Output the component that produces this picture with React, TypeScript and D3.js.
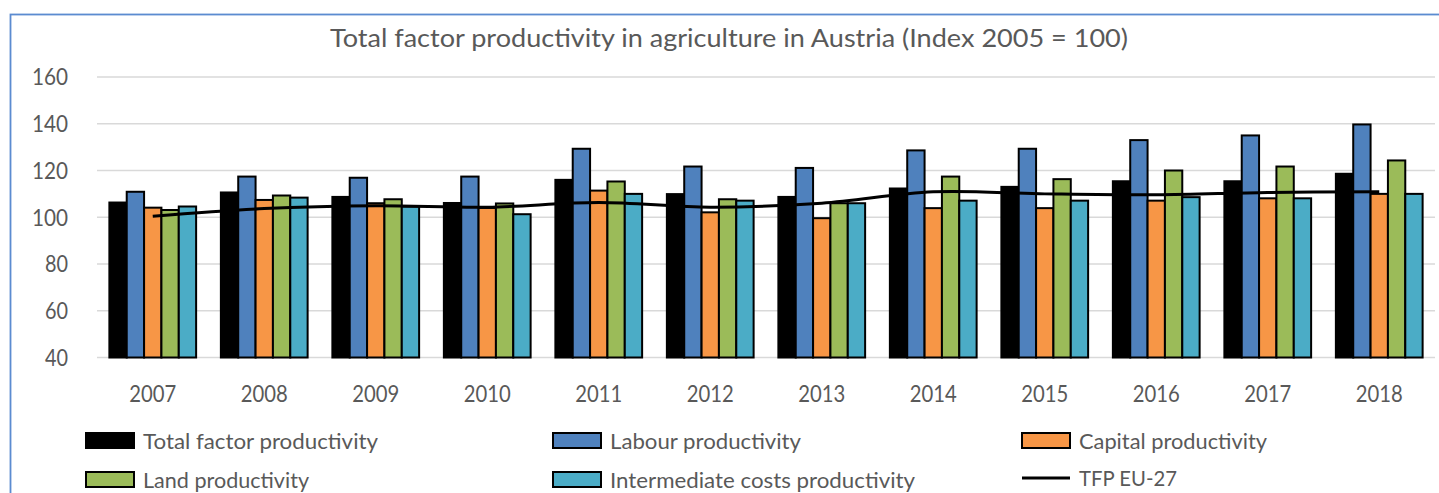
import React from "react";
import * as d3 from "d3";

const years = ["2007","2008","2009","2010","2011","2012","2013","2014","2015","2016","2017","2018"];
const tfp = [106.3, 110.6, 108.7, 106.1, 116.0, 109.9, 108.7, 112.3, 113.0, 115.4, 115.4, 118.6];
const labour = [110.9, 117.4, 116.9, 117.4, 129.3, 121.7, 121.1, 128.6, 129.3, 133.0, 135.0, 139.7];
const capital = [104.1, 107.4, 106.0, 104.0, 111.4, 102.1, 99.6, 103.9, 103.9, 107.1, 108.1, 110.0];
const land = [103.1, 109.3, 107.7, 105.9, 115.3, 107.7, 106.0, 117.4, 116.3, 120.0, 121.7, 124.3];
const intermediate = [104.6, 108.4, 104.6, 101.3, 110.0, 107.1, 106.0, 107.1, 107.1, 108.6, 108.1, 110.0];
const tfpEU = [100.4, 103.7, 104.9, 104.3, 106.3, 104.3, 106.0, 110.9, 110.0, 109.6, 110.6, 110.9];
const yTicks = [40, 60, 80, 100, 120, 140, 160];

const seriesNames = ["Total factor productivity", "Labour productivity", "Capital productivity", "Land productivity", "Intermediate costs productivity"];
const seriesColors = ["#000000", "#4f81bd", "#f79646", "#9bbb59", "#4bacc6"];
const seriesData = [tfp, labour, capital, land, intermediate];
const lineName = "TFP EU-27";

const FONT = "Lato, 'Open Sans', sans-serif";
const TXT = "#595959";

export default function App() {
  const W = 1439, H = 493;
  const left = 97, right = 1435, top = 77, bottom = 357.5;
  const x0 = d3.scaleBand<string>().domain(years).range([left, right]).padding(0);
  const groupW = x0.bandwidth() * 0.778;
  const x1 = d3.scaleBand<string>().domain(seriesNames).range([0, groupW]).padding(0);
  const y = d3.scaleLinear().domain([40, 160]).range([bottom, top]);
  const line = d3.line<number>()
    .x((_, i) => (x0(years[i]) as number) + x0.bandwidth() / 2)
    .y((d) => y(d))
    .curve(d3.curveCatmullRom.alpha(0.5));

  const yLabelW: Record<string, number> = { "40": 23, "60": 23, "80": 23, "100": 36, "120": 36, "140": 36, "160": 36 };

  const legendCols = [86, 553, 1022];
  const legendRows = [441, 480];
  const legendItems = [
    { name: seriesNames[0], color: seriesColors[0], col: 0, row: 0, w: 235 },
    { name: seriesNames[1], color: seriesColors[1], col: 1, row: 0, w: 191 },
    { name: seriesNames[2], color: seriesColors[2], col: 2, row: 0, w: 188 },
    { name: seriesNames[3], color: seriesColors[3], col: 0, row: 1, w: 166 },
    { name: seriesNames[4], color: seriesColors[4], col: 1, row: 1, w: 305 },
  ];

  return (
    <svg width={W} height={H} style={{ position: "absolute", left: 0, top: 0, background: "#fff" }}>
      <rect x={0} y={0} width={W} height={H} fill="#fff" />
      <rect x={10.5} y={14.5} width={W + 20} height={H + 20} fill="none" stroke="#5b8bd0" strokeWidth={1.8} />
      <text x={729} y={47} textAnchor="middle" fontFamily={FONT} fontSize={25} fill={TXT}
        textLength={798} lengthAdjust="spacingAndGlyphs">
        Total factor productivity in agriculture in Austria (Index 2005 = 100)
      </text>
      {yTicks.map((t) => (
        <g key={t}>
          <line x1={left} x2={right} y1={y(t)} y2={y(t)} stroke="#d9d9d9" strokeWidth={1.6} />
          <text x={68} y={y(t)} dy="0.36em" textAnchor="end" fontFamily={FONT} fontSize={23} fill={TXT}
            textLength={yLabelW[String(t)]} lengthAdjust="spacingAndGlyphs">{t}</text>
        </g>
      ))}
      {years.map((yr, i) => {
        const gx = (x0(yr) as number) + (x0.bandwidth() - groupW) / 2;
        return (
          <g key={yr}>
            {seriesData.map((s, k) => (
              <rect key={k} x={gx + (x1(seriesNames[k]) as number)} y={y(s[i])}
                width={x1.bandwidth()} height={y(40) - y(s[i])}
                fill={seriesColors[k]} stroke="#000" strokeWidth={2} />
            ))}
            <text x={(x0(yr) as number) + x0.bandwidth() / 2} y={402} textAnchor="middle" fontFamily={FONT}
              fontSize={23} fill={TXT} textLength={47} lengthAdjust="spacingAndGlyphs">{yr}</text>
          </g>
        );
      })}
      <path d={line(tfpEU) || ""} fill="none" stroke="#000" strokeWidth={3} />
      {legendItems.map((it) => {
        const lx = legendCols[it.col];
        const ly = legendRows[it.row];
        return (
          <g key={it.name}>
            <rect x={lx} y={ly - 8} width={48} height={15} fill={it.color} stroke="#000" strokeWidth={2} />
            <text x={lx + 57} y={ly} dy="0.36em" fontFamily={FONT} fontSize={22} fill={TXT}
              textLength={it.w} lengthAdjust="spacingAndGlyphs">{it.name}</text>
          </g>
        );
      })}
      <line x1={legendCols[2]} x2={legendCols[2] + 48} y1={legendRows[1] - 2} y2={legendRows[1] - 2} stroke="#000" strokeWidth={3} />
      <text x={legendCols[2] + 57} y={legendRows[1] - 2} dy="0.36em" fontFamily={FONT} fontSize={22} fill={TXT}
        textLength={98} lengthAdjust="spacingAndGlyphs">{lineName}</text>
    </svg>
  );
}
